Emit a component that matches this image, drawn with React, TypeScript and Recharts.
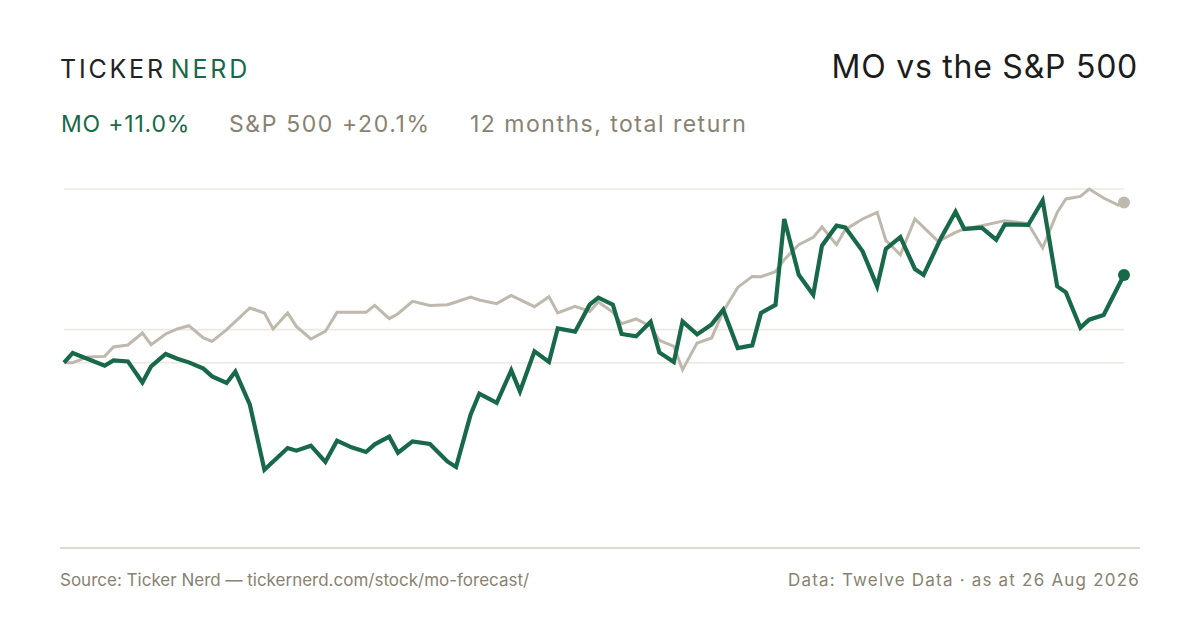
import React from "react";
import { LineChart, Line, XAxis, YAxis, ReferenceLine, ReferenceDot } from "recharts";

// days since start of window, % total return
const moDays = [0, 3, 14, 17, 22, 27, 30, 35, 39, 43, 48, 51, 56, 59, 64, 69, 77, 80, 85, 90, 94, 99, 104, 107, 112, 115, 120, 126, 132, 135, 140, 143, 149, 154, 157, 162, 167, 170, 176, 181, 184, 189, 192, 197, 202, 205, 210, 213, 218, 223, 227, 232, 237, 240, 245, 248, 253, 258, 261, 266, 269, 275, 280, 283, 288, 293, 296, 302, 307, 310, 316, 321, 324, 332, 337, 342, 345, 350, 353, 358, 365];
const moReturn = [0, 1.22, -0.38, 0.29, 0.16, -2.47, -0.46, 1.09, 0.5, 0.04, -0.75, -1.72, -2.55, -1.13, -5.27, -13.42, -10.7, -11.03, -10.41, -12.45, -9.78, -10.62, -11.2, -10.24, -9.28, -11.29, -9.87, -10.19, -12.38, -13.08, -6.52, -3.89, -5.05, -0.97, -3.6, 1.42, 0.09, 4.3, 3.89, 7.27, 8.15, 7.27, 3.6, 3.3, 5.14, 1.29, 0.09, 5.18, 3.55, 4.8, 6.65, 1.84, 2.17, 6.23, 7.24, 18.02, 11.03, 8.53, 14.67, 17.18, 16.97, 13.96, 9.57, 14.26, 15.76, 11.75, 11.0, 15.64, 18.93, 16.77, 16.93, 15.42, 17.34, 17.27, 20.35, 9.57, 8.82, 4.39, 5.39, 5.98, 11.0];

const spxDays = [0, 3, 8, 14, 17, 22, 27, 30, 35, 39, 43, 48, 51, 56, 64, 69, 72, 77, 80, 85, 90, 94, 99, 104, 107, 112, 115, 120, 126, 132, 135, 140, 143, 149, 154, 162, 167, 170, 176, 181, 184, 189, 192, 197, 202, 205, 210, 213, 218, 223, 227, 232, 237, 240, 245, 248, 253, 258, 261, 266, 269, 275, 280, 283, 288, 293, 301, 307, 310, 316, 324, 332, 337, 342, 345, 350, 353, 358, 363, 365];
const spxReturn = [0, 0, 0.71, 0.79, 1.97, 2.22, 3.72, 2.26, 3.6, 4.23, 4.64, 3.1, 2.67, 4.14, 6.86, 6.23, 4.23, 6.23, 4.55, 2.97, 3.92, 6.31, 6.31, 6.31, 7.18, 5.52, 6.14, 7.69, 7.18, 7.27, 7.61, 8.24, 7.86, 7.4, 8.44, 7.02, 8.28, 6.23, 7.06, 6.43, 7.61, 6.31, 4.89, 5.48, 4.55, 2.8, 2.04, -0.88, 2.47, 3.1, 6.43, 9.44, 10.82, 10.78, 11.41, 12.92, 14.8, 15.71, 17.02, 14.8, 16.68, 18.02, 18.85, 15.34, 13.54, 18.02, 15.21, 16.34, 16.77, 17.18, 17.81, 17.43, 14.38, 18.85, 20.53, 20.85, 21.78, 20.65, 19.77, 20.1];

const gridValues = [21.78, 4.14, 0];

const GREEN = "#17694a";
const SAND = "#bfb8ac";
const MUTED = "#898272";
const FONT = "Inter, 'Noto Sans', sans-serif";

const moData = moDays.map((d, i) => ({ day: d, value: moReturn[i] }));
const spxData = spxDays.map((d, i) => ({ day: d, value: spxReturn[i] }));

const lastMo = moData[moData.length - 1];
const lastSpx = spxData[spxData.length - 1];

const txt = (top: number, size: number, extra: React.CSSProperties = {}): React.CSSProperties => ({
    position: "absolute",
    top,
    fontSize: size,
    lineHeight: 1,
    fontFamily: FONT,
    whiteSpace: "nowrap",
    ...extra,
});

export default function App() {
    return (
        <div style={{ position: "absolute", left: 0, top: 0, width: 1200, height: 630, background: "#fff", overflow: "hidden" }}>
            <div style={txt(57.4, 25, { left: 60, letterSpacing: 2.8 })}>
                <span style={{ color: "#222" }}>TICKER</span>
                <span style={{ color: GREEN, marginLeft: 5 }}>NERD</span>
            </div>
            <div style={txt(50.7, 32, { right: 62, color: "#1c1c1c", textAlign: "right", letterSpacing: 0.75 })}>MO vs the S&amp;P 500</div>

            <div style={txt(112.8, 23, { left: 61, color: GREEN, letterSpacing: 0.8 })}>MO +11.0%</div>
            <div style={txt(112.8, 23, { left: 229, color: MUTED, letterSpacing: 1.6 })}>S&amp;P 500 +20.1%</div>
            <div style={txt(112.8, 23, { left: 470, color: MUTED, letterSpacing: 1.5 })}>12 months, total return</div>

            <div style={{ position: "absolute", left: 54, top: 179.3 }}>
                <LineChart width={1080} height={378.7} margin={{ top: 10, right: 10, bottom: 10, left: 10 }}>
                    <XAxis type="number" dataKey="day" domain={[0, 365]} hide allowDuplicatedCategory={false} />
                    <YAxis type="number" domain={[-23.2, 21.78]} hide />
                    {gridValues.map((v) => (
                        <ReferenceLine key={v} y={v} stroke="#ece9e3" strokeWidth={1.6} />
                    ))}
                    <Line data={spxData} dataKey="value" type="linear" stroke={SAND} strokeWidth={3} dot={false} isAnimationActive={false} strokeLinejoin="miter" />
                    <Line data={moData} dataKey="value" type="linear" stroke={GREEN} strokeWidth={4.2} dot={false} isAnimationActive={false} strokeLinejoin="miter" />
                    <ReferenceDot x={lastSpx.day} y={lastSpx.value} r={6} fill={SAND} stroke="none" />
                    <ReferenceDot x={lastMo.day} y={lastMo.value} r={6} fill={GREEN} stroke="none" />
                </LineChart>
            </div>

            <div style={{ position: "absolute", left: 60, top: 547, width: 1080, height: 2, background: "#dedad1" }} />

            <div style={txt(572, 17, { left: 60, color: MUTED })}>Source: Ticker Nerd — tickernerd.com/stock/mo-forecast/</div>
            <div style={txt(572, 17, { right: 60, color: MUTED, textAlign: "right", letterSpacing: 1.2 })}>Data: Twelve Data · as at 26 Aug 2026</div>
        </div>
    );
}
